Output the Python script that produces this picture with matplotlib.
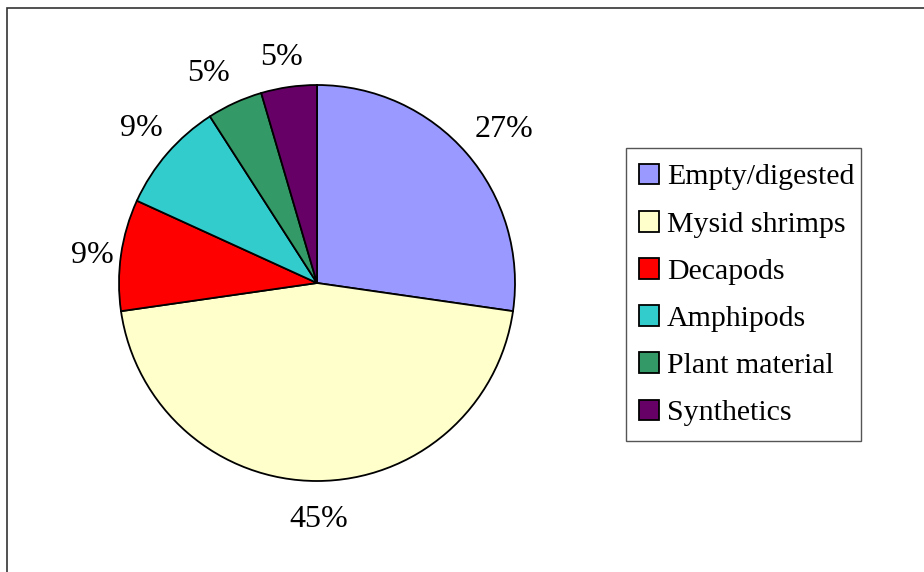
import matplotlib
matplotlib.use("Agg")
import matplotlib.pyplot as plt
from matplotlib.patches import Rectangle
import numpy as np

categories = ["Empty/digested", "Mysid shrimps", "Decapods", "Amphipods",
              "Plant material", "Synthetics"]
counts = [6, 10, 2, 2, 1, 1]
pct_labels = ["27%", "45%", "9%", "9%", "5%", "5%"]
colors = ["#9999FF", "#FFFFCC", "#FF0000", "#33CCCC", "#339966", "#660066"]

plt.rcParams['font.family'] = ['Liberation Serif', 'DejaVu Serif']

W, H = 924, 572
fig = plt.figure(figsize=(W / 100, H / 100), dpi=100)
fig.patch.set_facecolor("white")

# outer frame (top and left visible, right/bottom clipped)
fig.patches.append(Rectangle((7.5 / W, -0.2), 2, 1.2 - 7.5 / H,
                             transform=fig.transFigure, fill=False,
                             edgecolor="#333333", linewidth=1.2))

cx, cy, r = 317, 283, 198
ax = fig.add_axes([(cx - r) / W, (H - cy - r) / H, 2 * r / W, 2 * r / H])
wedges, _ = ax.pie(counts, colors=colors, startangle=90, counterclock=False,
                   radius=1.0,
                   wedgeprops=dict(edgecolor="black", linewidth=1.3))
ax.set_xlim(-1, 1)
ax.set_ylim(-1, 1)
ax.set_aspect("equal")
ax.axis("off")

# label placement (distance in radii, angular nudge in degrees)
dists = [1.238, 1.174, 1.145, 1.195, 1.208, 1.171]
nudges = [-0.8, 0.5, 0.2, -1.0, 2.3, 0.7]
for w, lab, d, n in zip(wedges, pct_labels, dists, nudges):
    ang = np.deg2rad((w.theta1 + w.theta2) / 2 + n)
    ax.text(d * np.cos(ang), d * np.sin(ang) - 0.02, lab, ha="center",
            va="center", fontsize=23, color="black")

# legend box drawn manually to match padding
fig.patches.append(Rectangle((625.5 / W, (H - 441) / H), 235 / W, 293 / H,
                             transform=fig.transFigure, fill=False,
                             edgecolor="#555555", linewidth=1.0))
leg = fig.legend(wedges, categories, loc="center left",
                 bbox_to_anchor=(639 / W, (H - 295) / H),
                 fontsize=21.5, frameon=False,
                 handlelength=0.68, handleheight=0.7, handletextpad=0.25,
                 labelspacing=0.68, borderpad=0, borderaxespad=0)
for h in leg.legend_handles:
    h.set_edgecolor("black")
    h.set_linewidth(1.3)

fig.savefig("out.png", dpi=100)
